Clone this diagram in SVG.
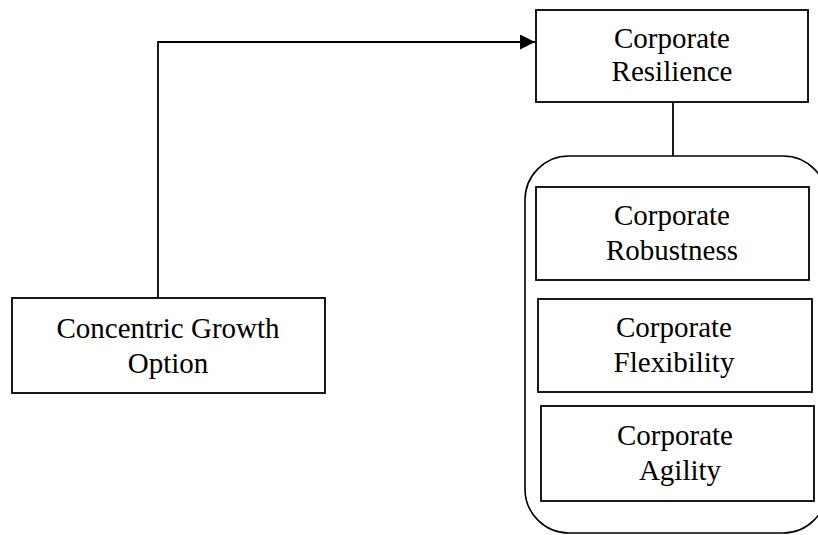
<svg xmlns="http://www.w3.org/2000/svg" width="818" height="535" viewBox="0 0 818 535">
<defs>
<marker id="arrow" markerWidth="16" markerHeight="16" refX="15" refY="7.5" orient="auto" markerUnits="userSpaceOnUse">
<path d="M0,0 L15,7.5 L0,15 Z" fill="#000"/>
</marker>
<style>
.box{fill:#fff;stroke:#000;stroke-width:1.8}
.cont{fill:#fff;stroke:#000;stroke-width:1.6}
.lbl{font-family:"Liberation Serif","Times New Roman",serif;font-size:29px;fill:#000;text-anchor:middle}
.conn{fill:none;stroke:#000;stroke-width:1.8}
</style>
</defs>
<rect width="818" height="535" fill="#fff"/>
<g id="container">
<rect class="cont" x="525" y="156" width="302" height="377" rx="44" ry="44"/>
</g>
<g id="resilience">
<rect class="box" x="536" y="10" width="272" height="92"/>
<text class="lbl" x="672" y="48">Corporate</text>
<text class="lbl" x="672" y="81">Resilience</text>
</g>
<g id="robustness">
<rect class="box" x="536" y="187" width="273" height="93"/>
<text class="lbl" x="672" y="225">Corporate</text>
<text class="lbl" x="672" y="260">Robustness</text>
</g>
<g id="flexibility">
<rect class="box" x="538" y="299" width="274" height="93"/>
<text class="lbl" x="674" y="337">Corporate</text>
<text class="lbl" x="674" y="372">Flexibility</text>
</g>
<g id="agility">
<rect class="box" x="541" y="406" width="273" height="95"/>
<text class="lbl" x="675" y="445">Corporate</text>
<text class="lbl" x="680" y="480">Agility</text>
</g>
<g id="concentric">
<rect class="box" x="12" y="298" width="313" height="95"/>
<text class="lbl" x="168" y="338">Concentric Growth</text>
<text class="lbl" x="168" y="373">Option</text>
</g>
<g id="connectors">
<polyline class="conn" points="158,298 158,42 535,42" marker-end="url(#arrow)"/>
<line class="conn" x1="673" y1="102" x2="673" y2="156"/>
</g>
</svg>
